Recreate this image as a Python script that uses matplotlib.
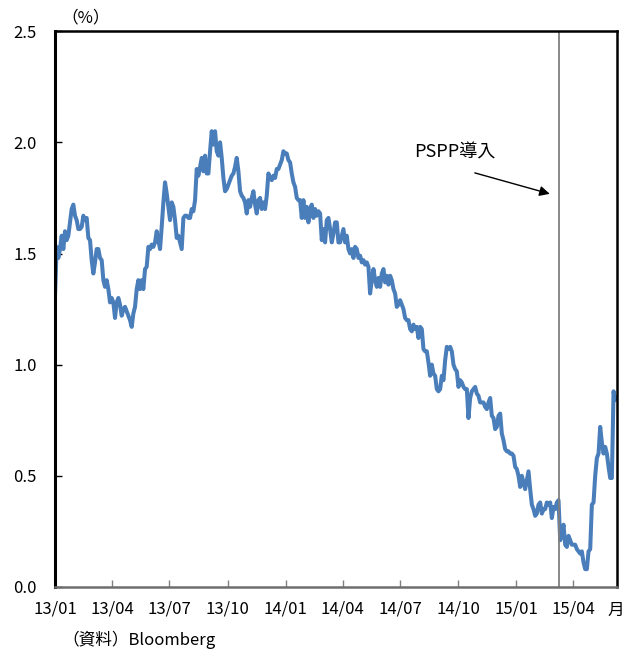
import numpy as np
import pandas as pd
import matplotlib
matplotlib.use("Agg")
import matplotlib.pyplot as plt

plt.rcParams['font.family'] = ['Noto Sans CJK JP', 'DejaVu Sans']

# German 10y yield (%), sampled at even intervals from 2013-01-01 to 2015-06-09
start_date = '2013-01-01'
end_date = '2015-06-09'
yield_2013 = [
    1.31, 1.53, 1.48, 1.52, 1.58, 1.52, 1.60, 1.56, 1.58, 1.64,
    1.70, 1.72, 1.67, 1.65, 1.61, 1.61, 1.62, 1.67, 1.65, 1.66,
    1.57, 1.56, 1.47, 1.41, 1.46, 1.52, 1.52, 1.48, 1.47, 1.38,
    1.35, 1.38, 1.34, 1.28, 1.30, 1.28, 1.21, 1.28, 1.30, 1.27,
    1.22, 1.25, 1.26, 1.24, 1.22, 1.20, 1.17, 1.23, 1.26, 1.34,
    1.38, 1.34, 1.38, 1.34, 1.43, 1.44, 1.53, 1.52, 1.54, 1.53,
    1.55, 1.60, 1.56, 1.52, 1.62, 1.73, 1.82, 1.77, 1.71, 1.65,
    1.73, 1.71, 1.65, 1.57, 1.58, 1.55, 1.52, 1.66, 1.67, 1.67,
    1.66, 1.66, 1.70, 1.69, 1.74, 1.88, 1.85, 1.89, 1.93, 1.87,
    1.94, 1.86, 1.86, 1.96, 2.05, 1.99, 2.05, 1.96, 1.94, 2.00,
    1.93, 1.84, 1.78, 1.79, 1.81, 1.83, 1.85, 1.86, 1.89, 1.93,
    1.87, 1.78, 1.76, 1.75, 1.73, 1.68, 1.74, 1.71, 1.75, 1.78,
    1.72, 1.68, 1.74, 1.75, 1.70, 1.73, 1.70, 1.76, 1.86, 1.84,
    1.83, 1.85, 1.84, 1.88, 1.88, 1.90, 1.92, 1.96,
]
yield_2014 = [
    1.95, 1.95, 1.92, 1.91, 1.86, 1.82, 1.80, 1.75, 1.74, 1.74,
    1.66, 1.74, 1.66, 1.71, 1.64, 1.70, 1.72, 1.66, 1.70, 1.67,
    1.69, 1.68, 1.56, 1.61, 1.55, 1.65, 1.66, 1.61, 1.55, 1.59,
    1.64, 1.64, 1.55, 1.55, 1.58, 1.61, 1.55, 1.58, 1.52, 1.50,
    1.52, 1.48, 1.53, 1.52, 1.48, 1.49, 1.46, 1.47, 1.45, 1.46,
    1.44, 1.32, 1.38, 1.43, 1.38, 1.35, 1.39, 1.35, 1.41, 1.43,
    1.37, 1.40, 1.36, 1.40, 1.38, 1.34, 1.32, 1.26, 1.27, 1.29,
    1.27, 1.25, 1.21, 1.20, 1.20, 1.16, 1.15, 1.18, 1.16, 1.17,
    1.12, 1.17, 1.16, 1.07, 1.06, 1.06, 1.01, 0.95, 1.00, 0.96,
    0.95, 0.89, 0.88, 0.89, 0.95, 0.93, 1.02, 1.08, 1.07, 1.08,
    1.06, 1.00, 0.98, 0.97, 0.90, 0.93, 0.92, 0.90, 0.89, 0.89,
    0.76, 0.85, 0.88, 0.89, 0.90, 0.87, 0.86, 0.83, 0.83, 0.83,
    0.81, 0.80, 0.83, 0.85, 0.77, 0.76, 0.71, 0.72, 0.77, 0.78,
    0.69, 0.66, 0.62, 0.61, 0.61, 0.60, 0.60, 0.59,
]
yield_2015 = [
    0.54, 0.53, 0.50, 0.45, 0.50, 0.47, 0.44, 0.48, 0.52, 0.44,
    0.37, 0.35, 0.32, 0.33, 0.37, 0.38, 0.33, 0.35, 0.35, 0.38,
    0.37, 0.38, 0.31, 0.36, 0.35, 0.38, 0.39, 0.21, 0.24, 0.28,
    0.19, 0.18, 0.23, 0.21, 0.19, 0.19, 0.19, 0.17, 0.16, 0.15,
    0.16, 0.11, 0.08, 0.08, 0.16, 0.17, 0.37, 0.38, 0.50, 0.58,
    0.60, 0.72, 0.65, 0.60, 0.63, 0.60, 0.54, 0.49, 0.49, 0.88,
    0.84, 0.85,
]
yields = yield_2013 + yield_2014 + yield_2015
dates = pd.date_range(start_date, end_date, periods=len(yields))

pspp_date = '2015-03-09'
tick_dates = pd.date_range('2013-01-01', '2015-04-01', freq='QS')

fig = plt.figure(figsize=(6.25, 6.5), dpi=100)
ax = fig.add_axes([0.088, 0.097, 0.899, 0.855])

ax.plot(dates, yields, color='#4A7EBB', lw=2.9, solid_joinstyle='round')
ax.axvline(pd.Timestamp(pspp_date), color='#7F7F7F', lw=1.3)

ax.set_xlim(pd.Timestamp(start_date), pd.Timestamp(end_date))
ax.set_ylim(0, 2.5)
ax.set_yticks(np.arange(0, 2.51, 0.5))
ax.yaxis.set_major_formatter(plt.FormatStrFormatter('%.1f'))
ax.set_xticks(tick_dates)
ax.set_xticklabels([d.strftime('%y/%m') for d in tick_dates])

ax.tick_params(axis='y', direction='in', length=5, width=1, color='black',
               labelsize=12, pad=13)
ax.tick_params(axis='x', direction='in', length=5, width=1, color='#808080',
               labelsize=12, pad=10)

for side in ['left', 'top', 'right']:
    ax.spines[side].set_color('black')
ax.spines['left'].set_linewidth(2.2)
ax.spines['top'].set_linewidth(1.8)
ax.spines['right'].set_linewidth(1.8)
ax.spines['bottom'].set_color('#6E6E6E')
ax.spines['bottom'].set_linewidth(1.8)

ax.text(0.012, 1.008, '（%）', transform=ax.transAxes, fontsize=12,
        ha='left', va='bottom')
fig.text(0.999, 0.061, '月', fontsize=12, ha='right', va='center')
fig.text(0.1, 0.016, '（資料）Bloomberg', fontsize=12, ha='left',
         va='center')

ax.text(pd.Timestamp('2014-09-25'), 1.955, 'PSPP導入', fontsize=13,
        ha='center', va='center')
ax.annotate('', xy=(pd.Timestamp('2015-02-27'), 1.765),
            xytext=(pd.Timestamp('2014-10-23'), 1.866),
            arrowprops=dict(arrowstyle='-|>', color='black', lw=1,
                            mutation_scale=15))

fig.savefig('out.png', dpi=100)
